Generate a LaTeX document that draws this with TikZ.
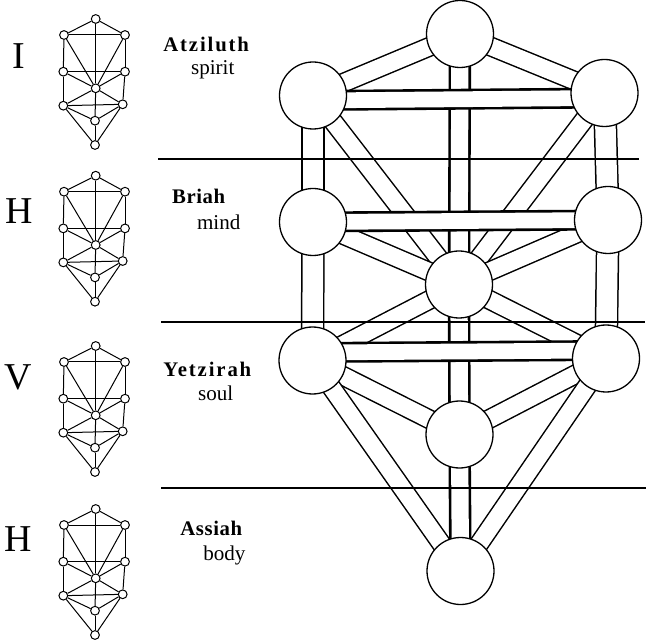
\documentclass[tikz,border=0pt]{standalone}
\usepackage{fontspec}
\setmainfont{Liberation Serif}
\usetikzlibrary{backgrounds}

\tikzset{
  sefira/.style={circle,draw,fill=white,line width=0.26mm,minimum size=13.4mm,inner sep=0pt},
  pillar/.style={line width=0.52mm,double=white,double distance=3.45mm},
  bridge/.style={line width=0.52mm,double=white,double distance=3.15mm},
  channel/.style={line width=0.3mm,double=white,double distance=3.4mm},
  flank/.style={line width=0.3mm,double=white,double distance=4.1mm},
  rule/.style={line width=0.24mm},
  bead/.style={circle,draw,fill=white,line width=0.2mm,minimum size=1.75mm,inner sep=0pt},
  twig/.style={line width=0.2mm},
  letter/.style={anchor=base west,inner sep=0pt,font=\fontsize{21.6}{24}\selectfont},
  world/.style={anchor=base west,inner sep=0pt,font=\fontsize{11.8}{14}\selectfont\bfseries},
  aspect/.style={anchor=base west,inner sep=0pt,font=\fontsize{12}{14}\selectfont}
}

\begin{document}
\begin{tikzpicture}[x=0.2mm,y=-0.2mm]
\useasboundingbox (0,0) rectangle (646,642);

% the big tree
\node[sefira] (keter)   at (460,34) {};
\node[sefira] (binah)   at (313,95.5) {};
\node[sefira] (chokmah) at (604.5,93) {};
\node[sefira] (geburah) at (313,222) {};
\node[sefira] (chesed)  at (608,220) {};
\node[sefira] (tiferet) at (459,284.5) {};
\node[sefira] (hod)     at (312.5,360.5) {};
\node[sefira] (netzach) at (606,358.5) {};
\node[sefira] (yesod)   at (459.5,434.5) {};
\node[sefira] (malkuth) at (460.5,571) {};

\begin{pgfonlayer}{background}
\draw[pillar] (keter.center) -- (tiferet.center);
\draw[pillar] (tiferet.center) -- (yesod.center);
\draw[pillar] (yesod.center) -- (malkuth.center);

\draw[channel] (keter.center) -- (binah.center);
\draw[channel] (keter.center) -- (chokmah.center);
\draw[channel] (binah.center) -- (tiferet.center);
\draw[channel] (chokmah.center) -- (tiferet.center);
\draw[channel] (geburah.center) -- (tiferet.center);
\draw[channel] (chesed.center) -- (tiferet.center);
\draw[channel] (hod.center) -- (tiferet.center);
\draw[channel] (netzach.center) -- (tiferet.center);
\draw[channel] (hod.center) -- (yesod.center);
\draw[channel] (netzach.center) -- (yesod.center);
\draw[channel] (hod.center) -- (malkuth.center);
\draw[channel] (netzach.center) -- (malkuth.center);

\draw[flank] (binah.center) -- (geburah.center);
\draw[flank] (geburah.center) -- (hod.center);
\draw[flank] (chokmah.center) -- (chesed.center);
\draw[flank] (chesed.center) -- (netzach.center);

\draw[bridge] ([yshift=-1mm]binah.center) -- ([yshift=-1mm]chokmah.center);
\draw[bridge] (geburah.center) -- (chesed.center);
\draw[bridge] ([yshift=1.6mm]hod.center) -- ([yshift=1.6mm]netzach.center);

% the four worlds
\draw[rule] (158,159) -- (639,159);
\draw[rule] (161,322) -- (645,322);
\draw[rule] (161,488) -- (646,488);
\end{pgfonlayer}

% small trees
\foreach \dy [count=\t] in {0,156.7,327,490}{
  \begin{scope}[shift={(0,\dy)}]
  \node[bead] (k\t)  at (95.7,19) {};
  \node[bead] (ul\t) at (64,35) {};
  \node[bead] (ur\t) at (125,35) {};
  \node[bead] (ml\t) at (63.3,71.7) {};
  \node[bead] (mr\t) at (125,71.7) {};
  \node[bead] (c\t)  at (95.7,88.3) {};
  \node[bead] (ll\t) at (63.3,105.7) {};
  \node[bead] (lr\t) at (122.7,104.3) {};
  \node[bead] (y\t)  at (95,120.7) {};
  \node[bead] (m\t)  at (95,145) {};
  \draw[twig] (k\t) -- (ul\t);
  \draw[twig] (k\t) -- (ur\t);
  \draw[twig] (k\t) -- (c\t);
  \draw[twig] (ul\t) -- (ur\t);
  \draw[twig] (ul\t) -- (ml\t);
  \draw[twig] (ul\t) -- (c\t);
  \draw[twig] (ur\t) -- (mr\t);
  \draw[twig] (ur\t) -- (c\t);
  \draw[twig] (ml\t) -- (mr\t);
  \draw[twig] (ml\t) -- (c\t);
  \draw[twig] (ml\t) -- (ll\t);
  \draw[twig] (mr\t) -- (c\t);
  \draw[twig] (mr\t) -- (lr\t);
  \draw[twig] (ll\t) -- (lr\t);
  \draw[twig] (ll\t) -- (c\t);
  \draw[twig] (lr\t) -- (c\t);
  \draw[twig] (ll\t) -- (y\t);
  \draw[twig] (lr\t) -- (y\t);
  \draw[twig] (ll\t) -- (m\t);
  \draw[twig] (lr\t) -- (m\t);
  \draw[twig] (c\t) -- (y\t);
  \draw[twig] (y\t) -- (m\t);
  \end{scope}
}

% letters of the name
\node[letter] (yod)  at (11.7,68.3) {I};
\node[letter] (heA)  at (5,223.3) {H};
\node[letter] (vav)  at (4,389.3) {V};
\node[letter] (heB)  at (4,551.7) {H};

\node[world] (atziluth) at (163,51.7) {\addfontfeature{LetterSpace=9}Atziluth};
\node[aspect] (spirit)  at (190.7,75) {spirit};
\node[world] (briah)    at (171.7,204) {\addfontfeature{LetterSpace=3}Briah};
\node[aspect] (mind)    at (196.7,230) {mind};
\node[world] (yetzirah) at (163,376) {\addfontfeature{LetterSpace=9}Yetzirah};
\node[aspect] (soul)    at (197.7,400) {soul};
\node[world] (assiah)   at (180,535) {\addfontfeature{LetterSpace=3}Assiah};
\node[aspect] (body)    at (203,560) {body};
\end{tikzpicture}
\end{document}
